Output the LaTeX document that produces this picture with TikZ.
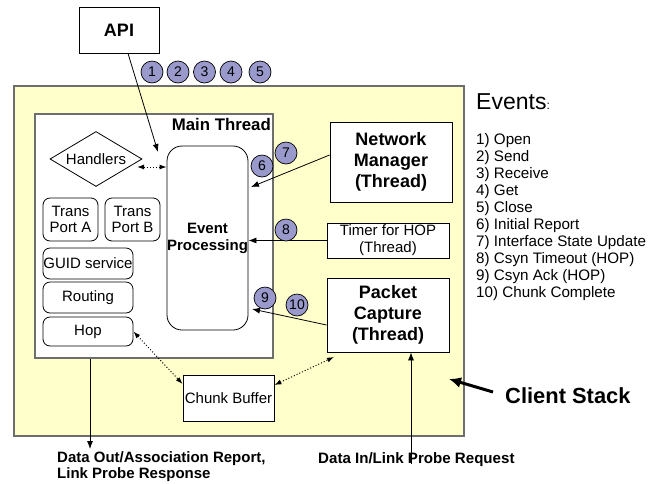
\documentclass[tikz,border=0pt]{standalone}
\usepackage{fontspec}
\setmainfont{Liberation Sans}
\usetikzlibrary{shapes.geometric,arrows.meta}
\definecolor{stackyellow}{RGB}{255,255,204}
\definecolor{evtblue}{RGB}{153,153,204}
\definecolor{bordergray}{RGB}{110,110,110}
\newcommand\fsz[2]{\fontsize{#1}{#2}\selectfont}
\tikzset{
 box/.style={draw=black, line width=0.8pt, fill=white, inner sep=0pt, align=center, font=\fsz{15}{17}},
 boldbox/.style={box, font=\fsz{18}{21}\bfseries},
 rbox/.style={box, rounded corners=7pt},
 evt/.style={circle, draw=black, line width=0.7pt, fill=evtblue, minimum size=22pt, inner sep=0pt, font=\fsz{14}{16}},
 arr/.style={-{Latex[length=8pt,width=6pt]}, line width=0.8pt},
 darr/.style={{Latex[length=7pt,width=5pt]}-{Latex[length=7pt,width=5pt]}, line width=1pt, dotted},
 evline/.style={anchor=base west, inner sep=0pt, font=\fsz{15.2}{17}},
 plain/.style={anchor=base west, inner sep=0pt},
}
\begin{document}
\begin{tikzpicture}[x=1pt,y=-1pt]
\useasboundingbox (0,0) rectangle (661,483);
% containers
\node[draw=bordergray, line width=1.3pt, fill=stackyellow, minimum width=450pt, minimum height=350pt, inner sep=0pt] (stack) at (239,261) {};
\node[draw=bordergray, line width=1.3pt, fill=white, minimum width=238pt, minimum height=244pt, inner sep=0pt] (main) at (154,236) {};
\node[anchor=base east, inner sep=0pt, font=\fsz{16.8}{18}\bfseries] (mainlbl) at (271,130) {Main Thread};
% inner boxes
\node[box, rounded corners=15pt, minimum width=81pt, minimum height=184pt, font=\fsz{15}{17}\bfseries] (ep) at (207.5,238) {Event\\Processing};
\node[draw, diamond, aspect=1.67, minimum width=92pt, minimum height=55pt, inner sep=0pt, fill=white, line width=0.8pt, font=\fsz{15}{17}] (handlers) at (96,159) {Handlers};
\node[rbox, minimum width=55pt, minimum height=43pt, font=\fsz{15}{16}] (tpa) at (70.5,219.5) {Trans\\Port A};
\node[rbox, minimum width=55pt, minimum height=43pt, font=\fsz{15}{16}] (tpb) at (132.5,219.5) {Trans\\Port B};
\node[rbox, minimum width=90pt, minimum height=31pt] (guid) at (88,263.5) {GUID service};
\node[rbox, minimum width=90pt, minimum height=31pt] (routing) at (88,297.5) {Routing};
\node[rbox, minimum width=90pt, minimum height=29pt] (hop) at (88,331.5) {Hop};
\node[box, minimum width=91pt, minimum height=46pt] (chunk) at (228.5,398) {Chunk Buffer};
% threads
\node[boldbox, minimum width=122pt, minimum height=80pt] (nm) at (391,162) {Network\\Manager\\(Thread)};
\node[box, minimum width=122pt, minimum height=35pt] (timer) at (388,240.5) {Timer for HOP\\(Thread)};
\node[boldbox, minimum width=122pt, minimum height=74pt] (pc) at (388,315) {Packet\\Capture\\(Thread)};
\node[box, minimum width=80pt, minimum height=46pt, font=\fsz{18}{21}\bfseries] (api) at (119,30) {API};
% free ends
\coordinate (apitip) at (158,152);
\coordinate (nmtip) at (251,187);
\coordinate (pctip) at (252,309);
\coordinate (hdl) at (137,167);
\coordinate (pcin) at (334,357);
\coordinate (dout) at (90,449);
\coordinate (din) at (411,464);
\coordinate (csfrom) at (493,392);
\coordinate (csto) at (449,379);
% connectors
\draw[arr] ([xshift=9pt]api.south) -- (apitip);
\draw[arr] ([yshift=7pt]nm.west) -- (nmtip);
\draw[arr] (timer.west) -- (ep.east |- timer.west);
\draw[arr] ([yshift=-10pt]pc.west) -- (pctip);
\draw[darr] (hdl) -- (ep.west |- hdl);
\draw[darr] (hop.east) -- ([yshift=14pt]chunk.west);
\draw[darr] ([yshift=13pt]chunk.east) -- (pcin);
\draw[arr] (main.south -| dout) -- (dout);
\draw[arr] (din) -- (pc.south -| din);
\draw[-{Latex[length=12pt,width=11pt]}, line width=3pt] (csfrom) -- (csto);
% event circles
\foreach \n/\x/\y in {1/152/72, 2/178/72, 3/204.5/72, 4/231/72, 5/260/72, 6/262/166, 7/286/153, 8/286/230, 9/265/298, 10/297/305}
  \node[evt] (c\n) at (\x,\y) {\n};
% labels
\node[plain, font=\fsz{21.9}{24}\bfseries] (cslbl) at (505,403) {Client Stack};
\node[plain, font=\fsz{15.1}{16}\bfseries] (dinlbl) at (318,463) {Data In/Link Probe Request};
\node[anchor=north west, inner sep=0pt, align=left, font=\fsz{15}{16}\bfseries] (doutlbl) at (57,451.5) {Data Out/Association Report,\\Link Probe Response};
\node[plain, font=\fsz{23}{26}] (evtitle) at (476,109) {Events{\fsz{12}{14}:}};
\foreach \i/\t in {1/Open, 2/Send, 3/Receive, 4/Get, 5/Close, 6/Initial Report, 7/Interface State Update, 8/Csyn Timeout (HOP), 9/Csyn Ack (HOP), 10/Chunk Complete}
  \node[evline] (e\i) at (476,{144+17*(\i-1)}) {\i) \t};
\end{tikzpicture}
\end{document}
